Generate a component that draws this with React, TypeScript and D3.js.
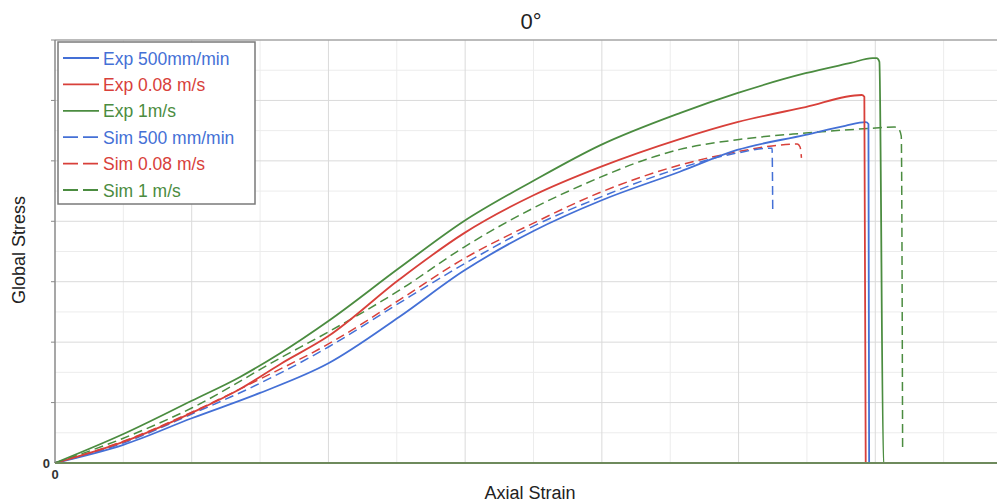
import React from "react";
import * as d3 from "d3";

// Data in chart units (axes have no numeric labels besides 0)
const expSlow: [number, number][] = [
  [0, 0], [0.5, 0.3], [1.0, 0.74], [1.5, 1.16], [2.0, 1.65], [2.52, 2.42], [2.99, 3.18],
  [3.5, 3.84], [3.99, 4.34], [4.57, 4.82], [4.99, 5.18], [5.49, 5.43], [5.78, 5.58],
  [5.93, 5.64], [5.95, 5.61], [5.955, 0],
];
const expMid: [number, number][] = [
  [0, 0], [0.5, 0.35], [1.0, 0.83], [1.35, 1.22], [1.65, 1.64], [2.0, 2.1], [2.52, 3.04],
  [2.99, 3.8], [3.5, 4.43], [3.99, 4.9], [4.57, 5.36], [4.99, 5.64], [5.49, 5.89],
  [5.9, 6.09], [5.92, 6.06], [5.93, 0],
];
const expFast: [number, number][] = [
  [0, 0], [0.5, 0.48], [1.0, 1.03], [1.35, 1.42], [1.65, 1.82], [2.0, 2.35], [2.52, 3.23],
  [2.99, 4.0], [3.5, 4.67], [3.99, 5.26], [4.57, 5.79], [4.99, 6.12], [5.49, 6.45],
  [5.82, 6.62], [5.98, 6.7], [6.01, 6.7], [6.03, 6.64], [6.06, 0], [7, 0],
];
const simSlow: [number, number][] = [
  [0, 0], [0.5, 0.33], [1.0, 0.81], [1.5, 1.32], [2.0, 1.92], [2.52, 2.65], [2.99, 3.29],
  [3.5, 3.92], [3.99, 4.4], [4.57, 4.88], [4.99, 5.13], [5.23, 5.21], [5.245, 5.21], [5.25, 4.14],
];
const simMid: [number, number][] = [
  [0, 0], [0.5, 0.36], [1.0, 0.84], [1.5, 1.39], [2.0, 1.97], [2.52, 2.7], [2.99, 3.38],
  [3.5, 3.97], [3.99, 4.48], [4.57, 4.93], [4.99, 5.15], [5.19, 5.23], [5.43, 5.28],
  [5.45, 5.23], [5.46, 5.05],
];
const simFast: [number, number][] = [
  [0, 0], [0.5, 0.41], [1.0, 0.91], [1.65, 1.74], [2.0, 2.17], [2.52, 2.86], [2.99, 3.57],
  [3.5, 4.22], [3.99, 4.73], [4.28, 4.99], [4.57, 5.19], [4.99, 5.35], [5.49, 5.46],
  [5.98, 5.54], [6.14, 5.56], [6.17, 5.53], [6.19, 5.41], [6.2, 0.18],
];

const seriesNames = ["Exp 500mm/min", "Exp 0.08 m/s", "Exp 1m/s", "Sim 500 mm/min", "Sim 0.08 m/s", "Sim 1 m/s"];
const seriesData = [expSlow, expMid, expFast, simSlow, simMid, simFast];
const seriesColors = ["#4470d6", "#d8403a", "#4b8c40", "#4470d6", "#d8403a", "#4b8c40"];
const seriesDashed = [false, false, false, true, true, true];

const titleText = "0°";
const xLabel = "Axial Strain";
const yLabel = "Global Stress";

const W = 997;
const H = 503;
const FONT = "'Liberation Sans', Arial, Helvetica, sans-serif";

export default function App() {
  const x = d3.scaleLinear().domain([0, 7]).range([55, 1012]);
  const y = d3.scaleLinear().domain([0, 7]).range([463, 40]);
  const line = d3
    .line<[number, number]>()
    .x((d) => x(d[0]))
    .y((d) => y(d[1]))
    .curve(d3.curveMonotoneX);

  const majors = d3.range(0, 8, 1);
  const minors = d3.range(0.5, 7.5, 1);

  const drawOrder = [4, 3, 5, 0, 1, 2];

  return (
    <div style={{ position: "fixed", left: 0, top: 0 }}>
      <svg width={W} height={H} style={{ display: "block", background: "#fff" }}>
        {/* grid */}
        {minors.map((v) => (
          <line key={"vx" + v} x1={x(v)} x2={x(v)} y1={y(7)} y2={y(0)} stroke="#ececec" strokeWidth={1} />
        ))}
        {minors.map((v) => (
          <line key={"hy" + v} x1={x(0)} x2={W} y1={y(v)} y2={y(v)} stroke="#ececec" strokeWidth={1} />
        ))}
        {majors.slice(1).map((v) => (
          <line key={"Vx" + v} x1={x(v)} x2={x(v)} y1={y(7)} y2={y(0)} stroke="#dadada" strokeWidth={1} />
        ))}
        {majors.slice(1).map((v) => (
          <line key={"Hy" + v} x1={x(0)} x2={W} y1={y(v)} y2={y(v)} stroke="#dadada" strokeWidth={1} />
        ))}
        {/* frame */}
        <line x1={x(0)} x2={W} y1={y(7)} y2={y(7)} stroke="#8a8a8a" strokeWidth={1.2} />
        <line x1={x(0)} x2={x(0)} y1={y(7)} y2={y(0)} stroke="#8a8a8a" strokeWidth={1.5} />
        {majors.slice(1).map((v) => (
          <line key={"t" + v} x1={x(0) - 4} x2={x(0)} y1={y(v)} y2={y(v)} stroke="#8a8a8a" strokeWidth={1} />
        ))}

        {/* series */}
        {drawOrder.map((i) => (
          <path
            key={"s" + i}
            d={line(seriesData[i]) || ""}
            fill="none"
            stroke={seriesColors[i]}
            strokeWidth={seriesDashed[i] ? 1.5 : 1.8}
            strokeDasharray={seriesDashed[i] ? "9,5" : undefined}
            strokeLinejoin="round"
          />
        ))}
        {/* zero-stress baseline (post-failure data lie on the axis) */}
        <line x1={x(0)} x2={W} y1={y(0)} y2={y(0)} stroke="#6e8a5c" strokeWidth={2} />

        {/* tick labels */}
        <text x={x(0) - 5} y={y(0) + 4.5} textAnchor="end" fontFamily={FONT} fontSize={13} fontWeight="bold" fill="#333">0</text>
        <text x={x(0)} y={y(0) + 16} textAnchor="middle" fontFamily={FONT} fontSize={13} fontWeight="bold" fill="#333">0</text>

        {/* titles */}
        <text x={531} y={29} textAnchor="middle" fontFamily={FONT} fontSize={22} fill="#222">{titleText}</text>
        <text x={530} y={499} textAnchor="middle" fontFamily={FONT} fontSize={18} fill="#222">{xLabel}</text>
        <text transform="translate(25,250) rotate(-90)" textAnchor="middle" fontFamily={FONT} fontSize={18} fill="#222">{yLabel}</text>

        {/* legend */}
        <rect x={58} y={42} width={197} height={162} fill="#fff" stroke="#7a7a7a" strokeWidth={1.5} />
        {seriesNames.map((name, i) => {
          const cy = 58 + i * 26.4;
          return (
            <g key={"l" + i}>
              <line
                x1={63}
                x2={99}
                y1={cy}
                y2={cy}
                stroke={seriesColors[i]}
                strokeWidth={1.8}
                strokeDasharray={seriesDashed[i] ? "15,5" : undefined}
              />
              <text x={103} y={cy + 6.5} fontFamily={FONT} fontSize={17.5} fill={seriesColors[i]}>{name}</text>
            </g>
          );
        })}
      </svg>
    </div>
  );
}
